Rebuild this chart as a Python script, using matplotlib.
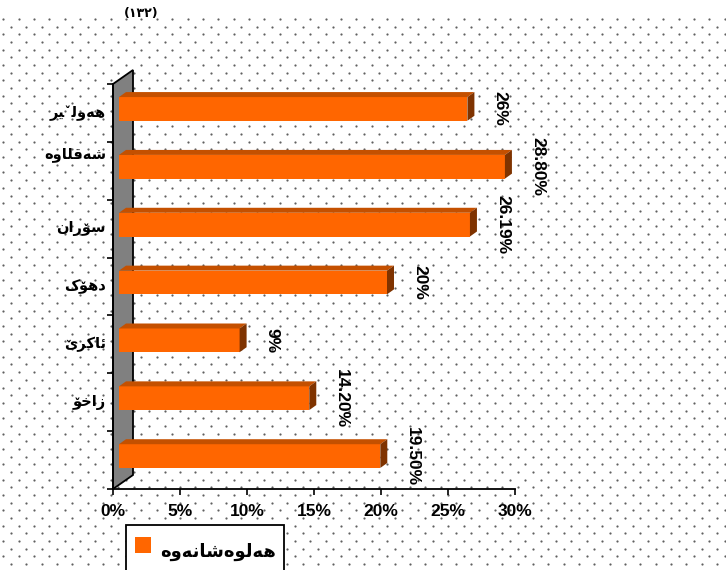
import numpy as np
import matplotlib
matplotlib.use("Agg")
import matplotlib.pyplot as plt
from matplotlib.patches import Polygon
from matplotlib.lines import Line2D
from matplotlib.transforms import ScaledTranslation, IdentityTransform

#   chart data (top bar first)

regions = ["هەولێر", "شەقلاوە", "سۆران", "دهۆک", "ئاکرێ", "زاخۆ", ""]
values = [26, 28.8, 26.19, 20, 9, 14.2, 19.5]
value_labels = ["26%", "28.80%", "26.19%", "20%", "9%", "14.20%", "19.50%"]
series_name = "هەلوەشانەوە"
x_ticks = [0, 5, 10, 15, 20, 25, 30]
x_tick_labels = ["0%", "5%", "10%", "15%", "20%", "25%", "30%"]
page_number = "(١٣٢)"

#   matplotlib does no arabic shaping, so pick the joined forms by hand
#   (isolated, final, initial, medial)

V = "\u065A"
FORMS = {
    "ا": ("\uFE8D", "\uFE8E", None, None),
    "ئ": ("\uFE89", "\uFE8A", "\uFE8B", "\uFE8C"),
    "خ": ("\uFEA5", "\uFEA6", "\uFEA7", "\uFEA8"),
    "د": ("\uFEA9", "\uFEAA", None, None),
    "ر": ("\uFEAD", "\uFEAE", None, None),
    "ز": ("\uFEAF", "\uFEB0", None, None),
    "س": ("\uFEB1", "\uFEB2", "\uFEB3", "\uFEB4"),
    "ش": ("\uFEB5", "\uFEB6", "\uFEB7", "\uFEB8"),
    "ق": ("\uFED5", "\uFED6", "\uFED7", "\uFED8"),
    "ل": ("\uFEDD", "\uFEDE", "\uFEDF", "\uFEE0"),
    "ن": ("\uFEE5", "\uFEE6", "\uFEE7", "\uFEE8"),
    "ه": ("\uFEE9", "\uFEEA", "\uFEEB", "\uFEEC"),
    "و": ("\uFEED", "\uFEEE", None, None),
    "ک": ("\uFB8E", "\uFB8F", "\uFB90", "\uFB91"),
    "ۆ": ("\uFBD9", "\uFBDA", None, None),
    "ە": ("\u06D5", "\uFEEA", None, None),
    "ێ": ("\u06CE", "\uFBFD" + V, "\uFBFE" + V, "\uFBFF" + V),
}
DUAL = set("ئخسشقلنهکێ")


def shape(word):
    out = []
    for i, ch in enumerate(word):
        f = FORMS.get(ch)
        if f is None:
            out.append(ch)
            continue
        joins_prev = i > 0 and word[i - 1] in DUAL
        joins_next = i < len(word) - 1 and ch in DUAL and word[i + 1] in FORMS
        if joins_prev and joins_next:
            out.append(f[3])
        elif joins_prev:
            out.append(f[1])
        elif joins_next:
            out.append(f[2])
        else:
            out.append(f[0])
    return "".join(reversed(out))


W, H = 726, 570
fig = plt.figure(figsize=(W / 100, H / 100), dpi=100)
fig.patch.set_facecolor("white")


def px(dx, dy):
    return ScaledTranslation(dx / 100, dy / 100, fig.dpi_scale_trans)


#   dotted page background

dx, dy = 15.35, 7.68
dot_x, dot_y = [], []
for k in range(-63, 10):
    yy = 502.7 + k * dy
    start = 11 if k % 2 == 0 else 11 + dx / 2
    for xx in np.arange(start - dx, W + dx, dx):
        dot_x.append(xx)
        dot_y.append(H - yy)
fig.add_artist(Line2D(dot_x, dot_y, transform=IdentityTransform(), ls="none",
                      marker="o", ms=1.6, mew=0, color="#606060", zorder=-5))

fig.text(141 / W, 1 - 13 / H, page_number, ha="center", va="center",
         fontsize=9, fontweight="bold", family="DejaVu Sans")

#   axes

ax = fig.add_axes([113 / W, 81 / H, 402 / W, 405 / H])
ax.patch.set_visible(False)
ax.set_xlim(0, 30)
ax.set_ylim(len(regions) - 0.5, -0.5)

#   grey 3d wall on the left

bl = ax.transAxes.transform((0, 0))
tl = ax.transAxes.transform((0, 1))
wall = Polygon([bl, tl, tl + (20, 14), bl + (20, 14)], closed=True,
               transform=IdentityTransform(), facecolor="#808080",
               edgecolor="black", lw=1.3, zorder=1, clip_on=False)
ax.add_patch(wall)

#   bars with top and side faces

ypos = np.arange(len(regions))
bar_h = 0.41
bars = ax.barh(ypos, values, height=bar_h, color="#FF6600", zorder=3)
for b in bars:
    b.set_transform(ax.transData + px(6, 4))
    b.set_clip_on(False)

for i, v in enumerate(values):
    x0, yt = ax.transData.transform((0, ypos[i] - bar_h / 2))
    x1, yb = ax.transData.transform((v, ypos[i] + bar_h / 2))
    x0, x1, yt, yb = x0 + 6, x1 + 6, yt + 4, yb + 4
    top = Polygon([(x0, yt), (x1, yt), (x1 + 7, yt + 5), (x0 + 7, yt + 5)],
                  transform=IdentityTransform(), facecolor="#C45000",
                  edgecolor="none", zorder=3, clip_on=False)
    side = Polygon([(x1, yb), (x1, yt), (x1 + 7, yt + 5), (x1 + 7, yb + 5)],
                   transform=IdentityTransform(), facecolor="#7F3300",
                   edgecolor="none", zorder=3, clip_on=False)
    ax.add_patch(top)
    ax.add_patch(side)
    ax.text(v, ypos[i], value_labels[i], rotation=-90, ha="center", va="center",
            fontsize=12.5, fontweight="bold", family="Liberation Sans",
            transform=ax.transData + px(38.5, 4))

#   category labels

for i, name in enumerate(regions):
    lift = 16 if i == 1 else 0
    ax.text(0, ypos[i], shape(name), ha="right", va="center",
            fontsize=10.5, fontweight="bold", family="DejaVu Sans",
            transform=ax.get_yaxis_transform() + px(-7, lift))

ax.set_xticks(x_ticks)
ax.set_xticklabels(x_tick_labels, fontsize=12.5, fontweight="bold",
                   family="Liberation Sans")
ax.set_yticks(np.arange(-0.5, len(regions), 1))
ax.set_yticklabels([])
ax.tick_params(axis="both", direction="out", length=4.3, width=1.2, color="black")
ax.tick_params(axis="x", pad=6.5)
for s in ["top", "right"]:
    ax.spines[s].set_visible(False)
for s in ["left", "bottom"]:
    ax.spines[s].set_linewidth(1.3)
    ax.spines[s].set_zorder(4)

#   legend

key = Line2D([], [], ls="none", marker="s", ms=12.2, mew=0, color="#FF6600")
leg = fig.legend([key], [shape(series_name)],
                 loc="upper left", bbox_to_anchor=(126 / W, 1 - 525 / H),
                 borderaxespad=0, frameon=True, fancybox=False, framealpha=1,
                 edgecolor="black", handlelength=1.0, handleheight=2.8,
                 handletextpad=0.45, borderpad=0.45,
                 prop={"family": "DejaVu Sans", "weight": "bold", "size": 13})
leg.get_frame().set_linewidth(1.3)

fig.savefig("out.png", dpi=100, facecolor="white")
